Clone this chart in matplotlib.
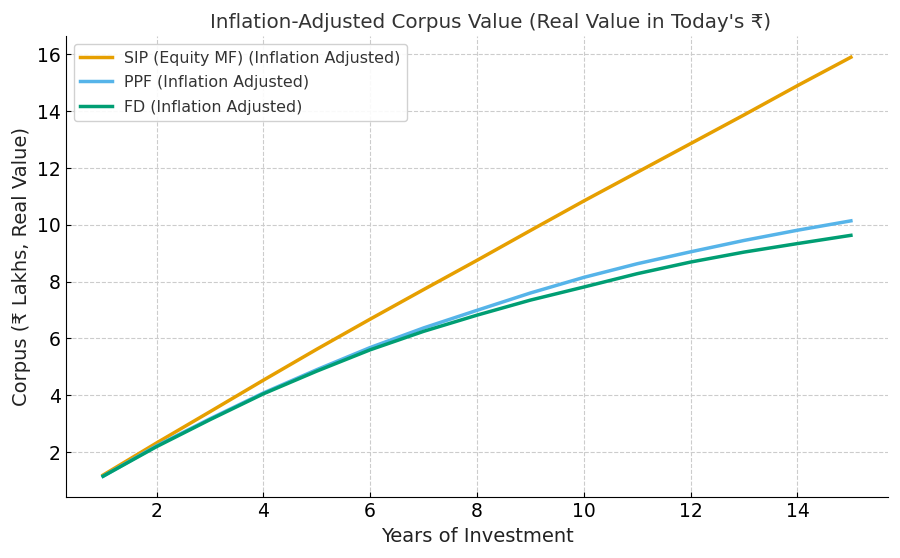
import numpy as np
import matplotlib
matplotlib.use('Agg')
import matplotlib.pyplot as plt

# values (Rs lakhs, real value)
years = list(range(1, 16))
sip = [1.19, 2.32, 3.42, 4.53, 5.62, 6.68, 7.72, 8.75, 9.8, 10.84, 11.85, 12.86, 13.87, 14.9, 15.9]
ppf = [1.15, 2.22, 3.17, 4.08, 4.9, 5.68, 6.37, 6.99, 7.6, 8.15, 8.63, 9.05, 9.45, 9.81, 10.14]
fd = [1.15, 2.19, 3.14, 4.05, 4.85, 5.6, 6.25, 6.82, 7.35, 7.81, 8.28, 8.69, 9.04, 9.34, 9.63]

labels = ["SIP (Equity MF) (Inflation Adjusted)",
          "PPF (Inflation Adjusted)",
          "FD (Inflation Adjusted)"]
colors = ['#E69F00', '#56B4E9', '#009E73']

plt.rcParams['font.family'] = ['DejaVu Sans']

fig, ax = plt.subplots(figsize=(9, 5.58), dpi=100)
fig.subplots_adjust(left=0.073, right=0.987, top=0.935, bottom=0.109)

for vals, lab, c in zip([sip, ppf, fd], labels, colors):
	ax.plot(years, vals, color=c, lw=2.5, label=lab)

ax.set_title("Inflation-Adjusted Corpus Value (Real Value in Today's \u20b9)", fontsize=14.3, color='#333333', x=0.516)
ax.set_xlabel("Years of Investment", fontsize=14, color='#222222')
ax.set_ylabel("Corpus (\u20b9 Lakhs, Real Value)", fontsize=14, color='#222222')
ax.tick_params(labelsize=13.5, direction='in')
ax.grid(True, linestyle='--', color='#cccccc', lw=0.8)
ax.spines['top'].set_visible(False)
ax.spines['right'].set_visible(False)
ax.legend(loc='upper left', fontsize=11.4, framealpha=0.9, edgecolor='#cccccc',
	labelcolor='#333333', labelspacing=0.6)

fig.savefig('out.png', dpi=100)
